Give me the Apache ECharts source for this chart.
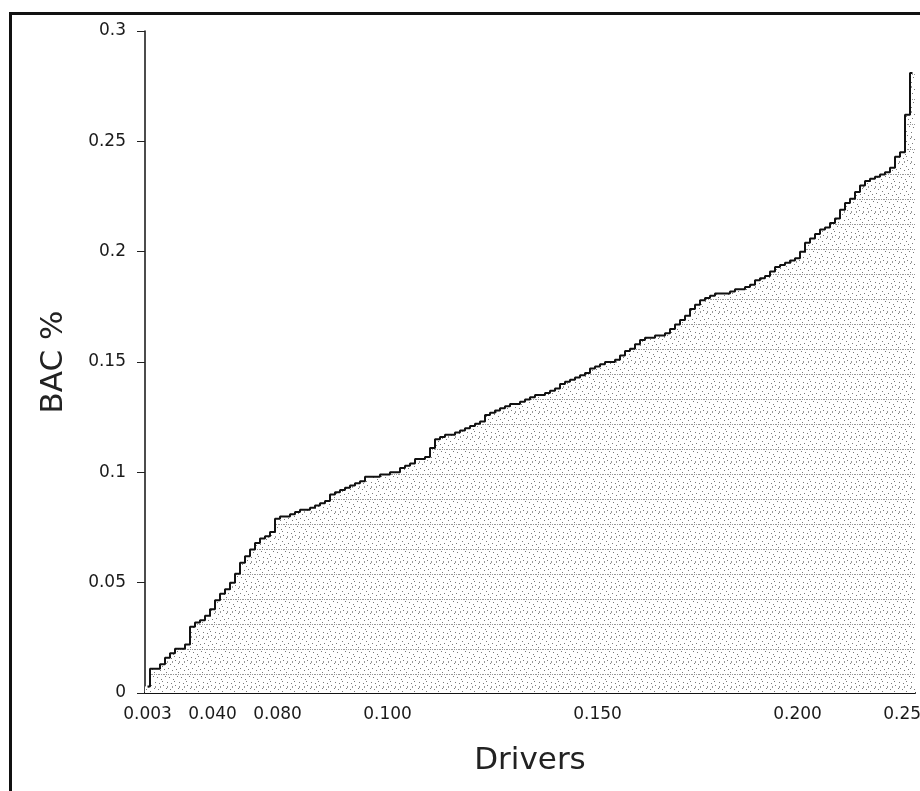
<!DOCTYPE html>
<html>
<head>
<meta charset="utf-8">
<style>
  html, body { margin: 0; padding: 0; background: #ffffff; }
  #chart { width: 920px; height: 791px; }
</style>
<script src="https://cdn.jsdelivr.net/npm/echarts@6/dist/echarts.min.js"></script>
</head>
<body>
<div id="chart"></div>
<script>
// BAC % of each driver, sorted ascending
const bacValues = [
  0.003, 0.011, 0.011, 0.013, 0.016, 0.018, 0.020, 0.020, 0.022, 0.030,
  0.032, 0.033, 0.035, 0.038, 0.042, 0.045, 0.047, 0.050, 0.054, 0.059,
  0.062, 0.065, 0.068, 0.070, 0.071, 0.073, 0.079, 0.080, 0.080, 0.081,
  0.082, 0.083, 0.083, 0.084, 0.085, 0.086, 0.087, 0.090, 0.091, 0.092,
  0.093, 0.094, 0.095, 0.096, 0.098, 0.098, 0.098, 0.099, 0.099, 0.100,
  0.100, 0.102, 0.103, 0.104, 0.106, 0.106, 0.107, 0.111, 0.115, 0.116,
  0.117, 0.117, 0.118, 0.119, 0.120, 0.121, 0.122, 0.123, 0.126, 0.127,
  0.128, 0.129, 0.130, 0.131, 0.131, 0.132, 0.133, 0.134, 0.135, 0.135,
  0.136, 0.137, 0.138, 0.140, 0.141, 0.142, 0.143, 0.144, 0.145, 0.147,
  0.148, 0.149, 0.150, 0.150, 0.151, 0.153, 0.155, 0.156, 0.158, 0.160,
  0.161, 0.161, 0.162, 0.162, 0.163, 0.165, 0.167, 0.169, 0.171, 0.174,
  0.176, 0.178, 0.179, 0.180, 0.181, 0.181, 0.181, 0.182, 0.183, 0.183,
  0.184, 0.185, 0.187, 0.188, 0.189, 0.191, 0.193, 0.194, 0.195, 0.196,
  0.197, 0.200, 0.204, 0.206, 0.208, 0.210, 0.211, 0.213, 0.215, 0.219,
  0.222, 0.224, 0.227, 0.230, 0.232, 0.233, 0.234, 0.235, 0.236, 0.238,
  0.243, 0.245, 0.262, 0.281
];

// one category per driver
const drivers = bacValues.map((v, i) => String(i + 1));

// x tick labels and the driver index where each is printed
const xTickLabels = ['0.003', '0.040', '0.080', '0.100', '0.150', '0.200', '0.250'];
const xTickIndex  = [0, 13, 26, 48, 90, 130, 152];

// y axis ticks
const yMin = 0, yMax = 0.3, yStep = 0.05;

// stipple pattern for the bar fill (style only)
function makeStipple() {
  const c = document.createElement('canvas');
  c.width = 12; c.height = 25;
  const g = c.getContext('2d');
  g.fillStyle = '#ffffff';
  g.fillRect(0, 0, 12, 25);
  g.fillStyle = '#7a7a7a';
  const dots = [[1,2],[5,4],[9,1],[3,8],[7,10],[11,7],[2,14],[6,16],[10,13],[4,20],[8,19],[0,18],[6,6],[10,22]];
  dots.forEach(d => g.fillRect(d[0], d[1], 1, 1));
  g.fillStyle = '#9a9a9a';
  [0,2,3,5,7,8,10].forEach(x => g.fillRect(x, 24, 1, 1));
  [4,11].forEach(x => g.fillRect(x, 11, 1, 2));
  return c;
}

const chart = echarts.init(document.getElementById('chart'), null, { renderer: 'canvas' });
const font = 'DejaVu Sans';

chart.setOption({
  backgroundColor: '#ffffff',
  animation: false,
  grid: { left: 145, right: 5, top: 31, bottom: 98, containLabel: false, outerBoundsMode: 'none' },
  graphic: [{
    type: 'rect',
    silent: true,
    shape: { x: 10.5, y: 13.5, width: 1000, height: 900 },
    style: { fill: 'none', stroke: '#111', lineWidth: 3 }
  }],
  xAxis: {
    type: 'category',
    data: drivers,
    boundaryGap: true,
    name: 'Drivers',
    nameLocation: 'middle',
    nameGap: 52,
    nameTextStyle: { fontFamily: font, fontSize: 31, color: '#222' },
    axisLine: { show: true, lineStyle: { color: '#111', width: 2 } },
    axisTick: { show: false },
    axisLabel: {
      interval: (index) => xTickIndex.indexOf(index) >= 0,
      formatter: (value, index) => {
        const k = xTickIndex.indexOf(index);
        return k >= 0 ? xTickLabels[k] : '';
      },
      hideOverlap: false,
      margin: 13,
      fontFamily: font,
      fontSize: 17,
      color: '#1a1a1a'
    },
    splitLine: { show: false }
  },
  yAxis: {
    type: 'value',
    min: yMin,
    max: yMax,
    interval: yStep,
    name: 'BAC %',
    nameLocation: 'middle',
    nameGap: 76,
    nameTextStyle: { fontFamily: font, fontSize: 31, color: '#222' },
    axisLine: { show: true, lineStyle: { color: '#111', width: 1.5 } },
    axisTick: { show: true, length: 8, lineStyle: { color: '#222', width: 1 } },
    axisLabel: { margin: 19, fontFamily: font, fontSize: 17, color: '#1a1a1a' },
    splitLine: { show: false }
  },
  series: [
    {
      type: 'bar',
      data: bacValues,
      barCategoryGap: '0%',
      barGap: '-100%',
      itemStyle: { color: { image: makeStipple(), repeat: 'repeat' } },
      silent: true
    },
    {
      type: 'line',
      data: bacValues,
      step: 'middle',
      symbol: 'none',
      lineStyle: { color: '#111', width: 2 },
      silent: true,
      z: 3
    }
  ]
});
</script>
</body>
</html>
